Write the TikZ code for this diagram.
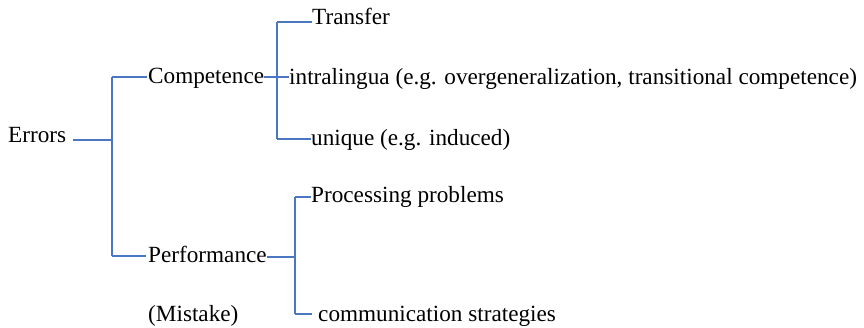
\documentclass[tikz,border=0pt]{standalone}
\usepackage{fontspec}
\setmainfont{Liberation Serif}
\definecolor{lineblue}{RGB}{74,118,194}
\begin{document}
\begin{tikzpicture}[x=1pt,y=-1pt,
  lbl/.style={anchor=base west,inner sep=0pt,font=\fontsize{23.2}{28}\selectfont,text=black},
  conn/.style={draw=lineblue,line width=2pt}]
\useasboundingbox[fill=white] (0,0) rectangle (864,328);
% text nodes
\node[lbl] (errors) at (8,143) {Errors};
\node[lbl] (comp) at (148,84) {Competence};
\node[lbl] (perf) at (148,263) {Performance};
\node[lbl] (mist) at (148,322) {(Mistake)};
\node[lbl] (transfer) at (312,25) {Transfer};
\node[lbl] (intra) at (289,85) {intralingua (e.g. overgeneralization, transitional competence)};
\node[lbl] (unique) at (311,146) {unique (e.g. induced)};
\node[lbl] (proc) at (311,203) {Processing problems};
\node[lbl] (comm) at (318,322) {communication strategies};
% junctions
\coordinate (ja) at (112,140);
\coordinate (jat) at (112,77);
\coordinate (jab) at (112,256);
\coordinate (jb) at (277,77);
\coordinate (jbt) at (277,22.5);
\coordinate (jbb) at (277,139);
\coordinate (jc) at (295,257);
\coordinate (jct) at (295,197);
\coordinate (jcb) at (295,314);
% connectors
\draw[conn] ([xshift=7pt]errors.east |- ja) -- (ja);
\draw[conn] (jat) -- (jab);
\draw[conn] (jat) -- ([xshift=-1pt]comp.west |- jat);
\draw[conn] (jab) -- ([xshift=-2pt]perf.west |- jab);
\draw[conn] (comp.east |- jb) -- (jb);
\draw[conn] (jbt) -- (jbb);
\draw[conn] (jbt) -- (transfer.west |- jbt);
\draw[conn] (jb) -- (intra.west |- jb);
\draw[conn] (jbb) -- (unique.west |- jbb);
\draw[conn] (perf.east |- jc) -- (jc);
\draw[conn] (jct) -- (jcb);
\draw[conn] (jct) -- (proc.west |- jct);
\draw[conn] (jcb) -- ([xshift=-6pt]comm.west |- jcb);
\end{tikzpicture}
\end{document}
